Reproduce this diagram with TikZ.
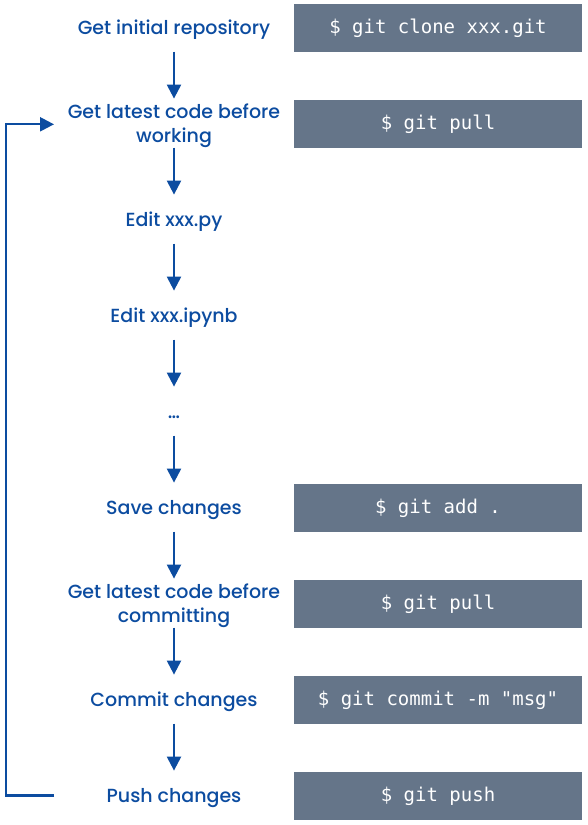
\documentclass[tikz,border=0pt]{standalone}
\usepackage{fontspec}
\setmainfont{Poppins}[UprightFont=* Medium]
\setmonofont{DejaVu Sans Mono}
\usetikzlibrary{arrows.meta}
\definecolor{stepblue}{RGB}{12,76,160}
\definecolor{cmdgray}{RGB}{101,117,137}
\newcommand\steplines[1]{\begin{tabular}{@{}c@{}}#1\end{tabular}}
\tikzset{
  stepnode/.style={text=stepblue, font=\fontsize{19}{24}\selectfont, inner sep=0pt, minimum height=48pt},
  cmdbox/.style={fill=cmdgray, text=white, font=\ttfamily\fontsize{19}{19}\selectfont,
    minimum width=288pt, minimum height=47.6pt, inner sep=0pt, text height=14pt, text depth=3pt},
  flow/.style={draw=stepblue, line width=2.3pt, -{Triangle[width=14pt,length=14pt]}},
}
\begin{document}
\begin{tikzpicture}[x=1pt,y=-1pt]
\useasboundingbox (0,0) rectangle (588,825);
\node[stepnode] (s1) at (174,29.9) {\steplines{Get initial repository}};
\node[stepnode] (s2) at (174,125.9) {\steplines{Get latest code before\\working}};
\node[stepnode] (s3) at (174,221.9) {\steplines{Edit xxx.py}};
\node[stepnode] (s4) at (174,317.9) {\steplines{Edit xxx.ipynb}};
\node[stepnode] (s5) at (174,413.9) {\steplines{…}};
\node[stepnode] (s6) at (174,509.9) {\steplines{Save changes}};
\node[stepnode] (s7) at (174,605.9) {\steplines{Get latest code before\\committing}};
\node[stepnode] (s8) at (174,701.9) {\steplines{Commit changes}};
\node[stepnode] (s9) at (174,797.9) {\steplines{Push changes}};
\node[cmdbox] (c1) at (438,27.8) {\$ git clone xxx.git};
\node[cmdbox] (c2) at (438,123.8) {\$ git pull};
\node[cmdbox] (c6) at (438,507.8) {\$ git add .};
\node[cmdbox] (c7) at (438,603.8) {\$ git pull};
\node[cmdbox] (c8) at (438,699.8) {\$ git commit -m "msg"};
\node[cmdbox] (c9) at (438,795.8) {\$ git push};
\foreach \a/\b in {1/2,2/3,3/4,4/5,5/6,6/7,7/8,8/9}{
  \draw[flow] ([yshift=2.6pt]s\a.south) -- ([yshift=3.1pt]s\b.north);
}
\coordinate (lb) at (54,795.5);
\coordinate (lt) at (54,124.3);
\draw[flow] (lb) -- (6,795.5) -- (6,124.3) -- (lt);
\end{tikzpicture}
\end{document}
